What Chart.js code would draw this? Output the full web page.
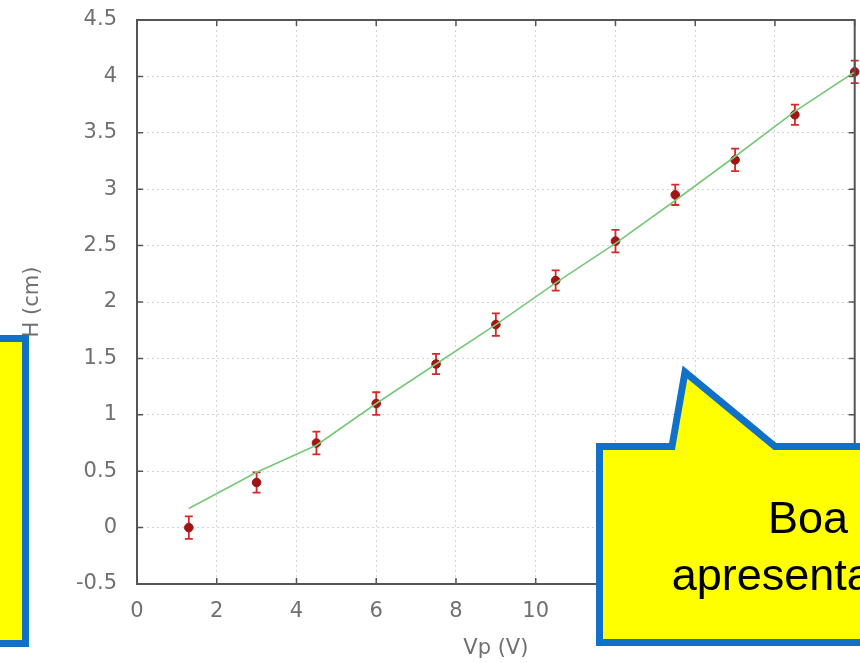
<!DOCTYPE html>
<html>
<head>
<meta charset="utf-8">
<title>H x Vp</title>
<script src="https://cdn.jsdelivr.net/npm/chart.js@4.4.1/dist/chart.umd.min.js"></script>
<style>
    html, body { margin: 0; padding: 0; background: #fff; overflow: hidden; }
    #wrap { position: relative; width: 860px; height: 663px; }
    #wrap canvas, #wrap svg { position: absolute; left: 0; top: 0; }
</style>
</head>
<body>
<div id="wrap">
    <canvas id="myChart" width="860" height="663"></canvas>
    <svg width="860" height="663" viewBox="0 0 860 663">
        <rect x="-10" y="338.5" width="35.5" height="305" fill="#ffff00" stroke="#1170c8" stroke-width="7"/>
        <path d="M599.5,446.5 L672,446.5 L685,372 L775,446.5 L880,446.5 L880,642.5 L599.5,642.5 Z"
              fill="#ffff00" stroke="#1170c8" stroke-width="7" stroke-linejoin="miter"/>
        <g font-family="'Liberation Sans', Arial, sans-serif" font-size="45" fill="#000" text-anchor="middle">
            <text x="808" y="533">Boa</text>
            <text x="808" y="590">apresentação</text>
        </g>
    </svg>
</div>
<script>
// medidas
const vpValues = [1.3, 3, 4.5, 6, 7.5, 9, 10.5, 12, 13.5, 15, 16.5, 18];
const hValues = [0.0, 0.40, 0.75, 1.10, 1.45, 1.80, 2.19, 2.54, 2.95, 3.26, 3.66, 4.04];
const hErrors = [0.10, 0.09, 0.10, 0.10, 0.09, 0.10, 0.09, 0.10, 0.09, 0.10, 0.09, 0.10];
// curva ajustada
const fitValues = [0.17, 0.49, 0.73, 1.10, 1.45, 1.80, 2.17, 2.52, 2.90, 3.29, 3.69, 4.04];

const xTicks = [0, 2, 4, 6, 8, 10, 12, 14, 16, 18];
const yTicks = [-0.5, 0, 0.5, 1, 1.5, 2, 2.5, 3, 3.5, 4, 4.5];

const frameColor = 'rgb(85,85,85)';

Chart.defaults.font.family = "'DejaVu Sans', sans-serif";
Chart.defaults.font.size = 21;
Chart.defaults.color = '#707070';

// barras de erro
const errorBars = {
    id: 'errorBars',
    beforeDatasetsDraw(chart) {
        const ctx = chart.ctx;
        const xs = chart.scales.x, ys = chart.scales.y;
        ctx.save();
        ctx.strokeStyle = 'rgb(215,40,40)';
        ctx.lineWidth = 1.8;
        for (let i = 0; i < vpValues.length; i++) {
            const px = xs.getPixelForValue(vpValues[i]);
            const top = ys.getPixelForValue(hValues[i] + hErrors[i]);
            const bot = ys.getPixelForValue(hValues[i] - hErrors[i]);
            ctx.beginPath();
            ctx.moveTo(px, top); ctx.lineTo(px, bot);
            ctx.moveTo(px - 4, top); ctx.lineTo(px + 4, top);
            ctx.moveTo(px - 4, bot); ctx.lineTo(px + 4, bot);
            ctx.stroke();
        }
        ctx.restore();
    }
};

// moldura estilo gnuplot, com ticks para dentro
const frame = {
    id: 'frame',
    afterDatasetsDraw(chart) {
        const ctx = chart.ctx;
        const a = chart.chartArea;
        const xs = chart.scales.x, ys = chart.scales.y;
        ctx.save();
        ctx.strokeStyle = frameColor;
        ctx.lineWidth = 1.5;
        ctx.beginPath();
        xTicks.forEach(function (v) {
            const px = xs.getPixelForValue(v);
            ctx.moveTo(px, a.bottom); ctx.lineTo(px, a.bottom - 6);
            ctx.moveTo(px, a.top); ctx.lineTo(px, a.top + 6);
        });
        yTicks.forEach(function (v) {
            const py = ys.getPixelForValue(v);
            ctx.moveTo(a.left, py); ctx.lineTo(a.left + 6, py);
            ctx.moveTo(a.right, py); ctx.lineTo(a.right - 6, py);
        });
        ctx.stroke();
        ctx.lineWidth = 2;
        ctx.strokeRect(a.left, a.top, a.right - a.left, a.bottom - a.top);
        ctx.restore();
    }
};

const gridOpts = {
    color: 'rgba(0,0,0,0.17)',
    lineWidth: 1,
    drawTicks: false
};

let chartH = document.getElementById('myChart').getContext('2d');

let grafico = new Chart(chartH, {
    type: 'scatter',
    data: {
        datasets: [
            {
                label: 'ajuste',
                type: 'line',
                data: vpValues.map(function (x, i) { return { x: x, y: fitValues[i] }; }),
                borderColor: 'rgb(120,200,120)',
                borderWidth: 1.6,
                pointRadius: 0,
                fill: false,
                tension: 0
            },
            {
                label: 'H',
                data: vpValues.map(function (x, i) { return { x: x, y: hValues[i] }; }),
                backgroundColor: 'rgb(160,20,20)',
                borderColor: 'rgb(160,20,20)',
                pointRadius: 4.3,
                clip: false
            }
        ]
    },
    options: {
        responsive: false,
        animation: false,
        devicePixelRatio: 1,
        layout: { padding: { left: 0, right: 2, top: 20, bottom: 0 } },
        plugins: {
            legend: { display: false },
            tooltip: { enabled: false }
        },
        scales: {
            x: {
                type: 'linear',
                min: 0,
                max: 18,
                afterBuildTicks: function (scale) {
                    scale.ticks = xTicks.map(function (v) { return { value: v }; });
                },
                afterFit: function (scale) {
                    scale.height = 79;
                    scale.paddingLeft = 0;
                    scale.paddingRight = 0;
                },
                ticks: {
                    padding: 15,
                    maxRotation: 0,
                    callback: function (v) { return String(v); }
                },
                grid: Object.assign({ borderDash: [2, 3] }, gridOpts),
                border: { display: false, dash: [2, 3] },
                title: {
                    display: true,
                    text: 'Vp (V)',
                    padding: { top: 0, bottom: 2 }
                }
            },
            y: {
                type: 'linear',
                min: -0.5,
                max: 4.5,
                afterBuildTicks: function (scale) {
                    scale.ticks = yTicks.map(function (v) { return { value: v }; });
                },
                afterFit: function (scale) {
                    scale.width = 137;
                    scale.paddingTop = 0;
                    scale.paddingBottom = 0;
                },
                ticks: {
                    padding: 20,
                    callback: function (v) { return String(v); }
                },
                grid: gridOpts,
                border: { display: false, dash: [2, 3] },
                title: {
                    display: true,
                    text: 'H (cm)',
                    padding: { top: 20, bottom: 0 }
                }
            }
        }
    },
    plugins: [errorBars, frame]
});
</script>
</body>
</html>
